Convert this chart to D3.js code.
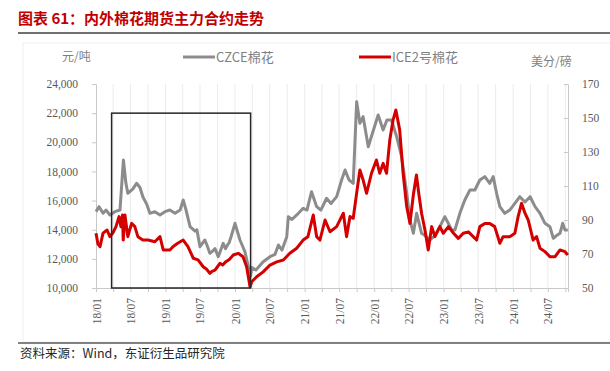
<!DOCTYPE html>
<html>
<head>
<meta charset="utf-8">
<script src="https://cdn.jsdelivr.net/npm/d3@7"></script>
<style>
  body { margin: 0; background: #fff; }
  svg { display: block; }
  .cjk { font-family: "Noto Sans CJK SC", sans-serif; }
</style>
</head>
<body>
<div id="chart"></div>
<script>
// CZCE cotton (yuan/ton), left axis
const czceDates = ["2018-01-01","2018-01-17","2018-02-07","2018-02-23","2018-03-15","2018-04-10","2018-05-07","2018-05-25","2018-06-07","2018-06-17","2018-07-14","2018-08-02","2018-08-20","2018-09-04","2018-09-26","2018-10-11","2018-11-06","2018-12-03","2018-12-29","2019-01-24","2019-02-20","2019-03-19","2019-04-04","2019-04-18","2019-05-10","2019-06-05","2019-06-15","2019-07-01","2019-07-27","2019-08-08","2019-08-22","2019-09-03","2019-09-18","2019-10-05","2019-10-18","2019-10-31","2019-11-12","2019-11-25","2019-12-01","2019-12-11","2020-01-01","2020-01-27","2020-02-22","2020-03-11","2020-03-22","2020-03-30","2020-04-20","2020-05-28","2020-07-03","2020-07-29","2020-08-16","2020-09-04","2020-09-29","2020-10-07","2020-10-26","2020-11-29","2020-12-24","2021-01-13","2021-02-06","2021-03-05","2021-03-27","2021-04-26","2021-05-19","2021-06-18","2021-07-14","2021-08-01","2021-08-22","2021-09-13","2021-10-01","2021-10-18","2021-11-04","2021-12-01","2021-12-20","2022-01-22","2022-02-17","2022-03-09","2022-04-02","2022-04-29","2022-05-25","2022-06-21","2022-07-08","2022-07-26","2022-08-12","2022-09-07","2022-09-25","2022-10-21","2022-11-16","2022-12-12","2023-01-07","2023-01-23","2023-02-11","2023-03-01","2023-03-27","2023-04-22","2023-05-19","2023-06-14","2023-07-10","2023-08-05","2023-08-31","2023-09-18","2023-10-06","2023-10-23","2023-11-18","2023-12-14","2024-01-10","2024-02-05","2024-03-03","2024-03-30","2024-04-25","2024-05-21","2024-06-16","2024-07-12","2024-07-30","2024-08-16","2024-09-03","2024-09-17","2024-09-29","2024-10-14"];
const czceValues = [15240,15580,15125,15350,15010,15240,15350,18785,17200,16500,16800,17185,16900,16265,15700,15125,15240,15010,15240,15350,15125,15350,16040,15400,14210,13900,14000,12836,13294,12900,12380,12500,12700,12150,12600,13065,12700,13000,13100,13500,14440,13294,12500,11462,10800,11400,11235,11805,12150,12300,12950,12600,13520,14893,14700,15125,15470,15350,16610,15580,15350,16160,15800,16270,17412,18098,17412,17185,22790,21300,21757,19697,20500,21872,20843,21530,21530,20385,19010,16500,14667,13755,15125,13755,13600,13294,13600,14210,14893,14500,14000,13980,15125,16040,16726,16726,17412,17640,17185,17640,16500,15580,15125,15350,15810,16265,15900,16265,15580,15125,14440,14210,13410,13600,13750,14440,13980,13980];

// ICE No.2 cotton (cents/lb), right axis
const iceDates = ["2018-01-01","2018-01-11","2018-01-22","2018-02-07","2018-02-28","2018-03-15","2018-03-31","2018-04-16","2018-05-02","2018-05-12","2018-05-20","2018-05-24","2018-06-02","2018-06-17","2018-07-07","2018-07-24","2018-08-09","2018-09-04","2018-10-01","2018-11-06","2018-12-03","2018-12-20","2019-01-08","2019-01-24","2019-02-09","2019-03-02","2019-04-04","2019-04-29","2019-05-27","2019-06-21","2019-07-18","2019-08-05","2019-08-22","2019-09-02","2019-09-18","2019-10-01","2019-10-14","2019-10-28","2019-11-14","2019-12-02","2019-12-23","2020-01-18","2020-02-12","2020-03-02","2020-03-20","2020-03-29","2020-04-24","2020-05-28","2020-07-03","2020-08-07","2020-09-11","2020-10-15","2020-11-20","2020-12-24","2021-01-18","2021-02-15","2021-03-05","2021-03-22","2021-04-18","2021-05-14","2021-06-18","2021-07-23","2021-08-09","2021-08-27","2021-09-13","2021-10-01","2021-10-18","2021-11-04","2021-11-22","2021-12-18","2022-01-13","2022-01-30","2022-02-17","2022-03-07","2022-03-24","2022-04-10","2022-04-25","2022-05-15","2022-06-02","2022-06-21","2022-07-08","2022-07-26","2022-08-11","2022-08-24","2022-09-07","2022-09-25","2022-10-12","2022-10-30","2022-11-16","2022-12-12","2022-12-30","2023-01-26","2023-02-22","2023-03-19","2023-04-14","2023-05-11","2023-06-05","2023-06-23","2023-07-10","2023-08-05","2023-08-31","2023-09-26","2023-10-23","2023-11-09","2023-12-14","2024-01-10","2024-01-27","2024-02-14","2024-03-03","2024-03-20","2024-04-15","2024-05-03","2024-05-21","2024-06-16","2024-07-12","2024-08-08","2024-09-03","2024-09-29","2024-10-14"];
const iceValues = [82.2,76,74.3,82.3,84.1,80.2,82.5,86.1,92,86,92.9,78.2,92.9,80.2,88,86.1,80.2,78.2,78.2,77.2,80.2,72.4,72.4,72.4,74.3,76,78.2,74.3,67.5,66.5,62.5,61,58.6,59.8,60.5,62.5,64.5,63.5,65.5,66.8,69.4,70.4,68.4,62.5,50.8,53.7,56.6,59.5,63.5,65.4,66.5,70.4,73.4,78.2,80.2,92.9,80.2,78.2,90,83.1,86.1,94,80.2,92,91,105.8,119.4,113.5,105.7,117.5,125.3,117.5,123.3,117.5,137,148.7,154.7,143,117.5,97.8,88,105,116.5,105,94,84,72.4,86.1,80.2,86.1,82.2,86.1,82.2,79.2,82.2,83,80.2,78.2,86.1,88,88,86.1,76.3,80.2,80.2,82.2,92,99.8,94,90,78.2,80.2,73.4,71.4,68.4,68.4,72.4,71.4,69.4];

const leftTicks = [10000,12000,14000,16000,18000,20000,22000,24000];
const rightTicks = [50,70,90,110,130,150,170];
const seriesNames = ["CZCE棉花","ICE2号棉花"];
const seriesColors = ["#8c8c8c","#d40000"];
const boxDates = ["2018-03-24","2020-03-23"];
const boxValues = [10000,22000];

const width = 610, height = 371;
const margin = { top: 84, right: 42, bottom: 83, left: 96 };
const plot_width = width - margin.left - margin.right;
const plot_height = height - margin.top - margin.bottom;
const parse = d3.timeParse("%Y-%m-%d");
const serif = "'Liberation Serif', 'Times New Roman', serif";

const canvas = d3.select("#chart").append("svg")
  .attr("width", width).attr("height", height);

// title + frame lines
canvas.append("text")
  .attr("class", "cjk")
  .attr("x", 18).attr("y", 24)
  .style("font-size", "15px").style("font-weight", "bold")
  .style("fill", "#c00000")
  .text("图表 61：内外棉花期货主力合约走势");

canvas.append("line").attr("x1", 18).attr("x2", 610).attr("y1", 33).attr("y2", 33)
  .style("stroke", "#404040").style("stroke-width", 1.5);
canvas.append("rect").attr("x", 23).attr("y", 43).attr("width", 600).attr("height", 299)
  .style("fill", "none").style("stroke", "#efefef");
canvas.append("line").attr("x1", 18).attr("x2", 610).attr("y1", 343).attr("y2", 343)
  .style("stroke", "#595959").style("stroke-width", 1.5);

canvas.append("text")
  .attr("class", "cjk")
  .attr("x", 20).attr("y", 358)
  .style("font-size", "12.5px").style("fill", "#262626")
  .text("资料来源：Wind，东证衍生品研究院");

const plot = canvas.append("g")
  .attr("transform", `translate(${margin.left},${margin.top})`);

// SCALES
const xScale = d3.scaleTime()
  .domain([parse("2018-01-01"), parse("2024-10-15")])
  .range([0, plot_width]);
const yLeft = d3.scaleLinear().domain([10000, 24000]).range([plot_height, 0]);
const yRight = d3.scaleLinear().domain([50, 170]).range([plot_height, 0]);

// quarterly gridlines
const quarters = d3.timeMonth.every(3).range(parse("2018-04-01"), parse("2024-10-02"));
plot.selectAll(".grid").data(quarters).join("line")
  .attr("x1", d => xScale(d)).attr("x2", d => xScale(d))
  .attr("y1", 0).attr("y2", plot_height)
  .style("stroke", "#ececec").style("stroke-width", 1);

// AXES
const axisColor = "#c8c8c8";
function styleAxis(g) {
  g.attr("font-family", null).attr("font-size", null);
  g.select(".domain").style("stroke", axisColor);
  g.selectAll(".tick line").style("stroke", axisColor);
  g.selectAll(".tick text")
    .style("font-family", serif).style("font-size", "11.5px").style("fill", "#595959");
}

const xAxis = plot.append("g")
  .attr("transform", `translate(0,${plot_height})`)
  .call(d3.axisBottom(xScale)
    .tickValues(d3.timeMonth.every(3).range(parse("2018-01-01"), parse("2024-10-02")))
    .tickSize(4).tickFormat(d => (d.getMonth() % 6 === 0) ? d3.timeFormat("%y/%m")(d) : ""));
styleAxis(xAxis);
xAxis.selectAll(".tick text")
  .attr("transform", "rotate(-90)")
  .attr("x", -10).attr("y", 0).attr("dy", "0.35em")
  .style("text-anchor", "end");

const yAxisL = plot.append("g")
  .call(d3.axisLeft(yLeft).tickValues(leftTicks).tickSize(4).tickPadding(14)
    .tickFormat(d3.format(",")));
styleAxis(yAxisL);

const yAxisR = plot.append("g")
  .attr("transform", `translate(${plot_width},0)`)
  .call(d3.axisRight(yRight).tickValues(rightTicks).tickSizeInner(-4).tickSizeOuter(0).tickPadding(14));
styleAxis(yAxisR);

// LINES
const czce = czceDates.map((d, i) => ({ date: parse(d), value: czceValues[i] }));
const ice = iceDates.map((d, i) => ({ date: parse(d), value: iceValues[i] }));

plot.append("path").datum(czce)
  .attr("d", d3.line().x(d => xScale(d.date)).y(d => yLeft(d.value)))
  .style("fill", "none").style("stroke", seriesColors[0])
  .style("stroke-width", 3).style("stroke-linejoin", "round");

plot.append("path").datum(ice)
  .attr("d", d3.line().x(d => xScale(d.date)).y(d => yRight(d.value)))
  .style("fill", "none").style("stroke", seriesColors[1])
  .style("stroke-width", 3).style("stroke-linejoin", "round");

// highlight box
const bx0 = xScale(parse(boxDates[0])), bx1 = xScale(parse(boxDates[1]));
plot.append("rect")
  .attr("x", bx0).attr("y", yLeft(boxValues[1]))
  .attr("width", bx1 - bx0).attr("height", yLeft(boxValues[0]) - yLeft(boxValues[1]))
  .style("fill", "none").style("stroke", "#262626").style("stroke-width", 1.5);

// unit labels
canvas.append("text").attr("class", "cjk")
  .attr("x", 62).attr("y", 61)
  .style("font-size", "12px").style("fill", "#7f7f7f").text("元/吨");
canvas.append("text").attr("class", "cjk")
  .attr("x", 531).attr("y", 66)
  .style("font-size", "12px").style("fill", "#7f7f7f").text("美分/磅");

// LEGEND
const legendX = [183, 359];
seriesNames.forEach((name, i) => {
  const g = canvas.append("g").attr("transform", `translate(${legendX[i]},57)`);
  g.append("line").attr("x1", 0).attr("x2", 32).attr("y1", 0).attr("y2", 0)
    .style("stroke", seriesColors[i]).style("stroke-width", 3);
  g.append("text").attr("class", "cjk")
    .attr("x", 33).attr("y", 5)
    .style("font-size", "13px").style("fill", "#7f7f7f")
    .text(name);
});
</script>
</body>
</html>
